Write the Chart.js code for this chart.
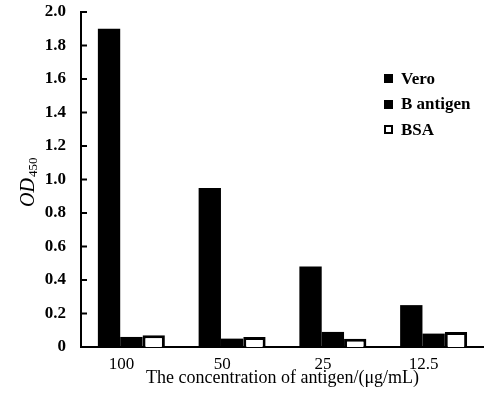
<!DOCTYPE html>
<html>
<head>
<meta charset="utf-8">
<script src="https://cdn.jsdelivr.net/npm/chart.js@4/dist/chart.umd.min.js"></script>
<style>
    html, body { margin: 0; padding: 0; background: #fff; }
    #wrap { position: relative; width: 484px; height: 396px; }
    #legend { position: absolute; left: 384px; top: 66px; font: bold 17px "Liberation Serif", serif; color: #000; }
    .item { height: 25.5px; display: flex; align-items: center; }
    .box { width: 9px; height: 9px; margin-right: 8px; box-sizing: border-box; }
</style>
</head>
<body>
<div id="wrap">
    <canvas id="chart" width="484" height="396"></canvas>
    <div id="legend"></div>
</div>
<script>
// concentration of antigen (µg/mL)
const categories = ['100', '50', '25', '12.5'];
const seriesNames = ['Vero', 'B antigen', 'BSA'];
const veroValues = [1.9, 0.95, 0.48, 0.25];
const bAntigenValues = [0.06, 0.05, 0.09, 0.08];
const bsaValues = [0.07, 0.06, 0.05, 0.09];
const yTicks = [0, 0.2, 0.4, 0.6, 0.8, 1.0, 1.2, 1.4, 1.6, 1.8, 2.0];

const serif = '"Liberation Serif", "Times New Roman", serif';

// inward tick marks on the y axis + the OD450 axis title
const axisExtras = {
    id: 'axisExtras',
    afterDraw(chart) {
        const ctx = chart.ctx;
        const y = chart.scales.y;
        const left = chart.chartArea.left;
        ctx.save();
        ctx.strokeStyle = '#000';
        ctx.lineWidth = 2;
        y.ticks.forEach(t => {
            const py = y.getPixelForValue(t.value);
            ctx.beginPath();
            ctx.moveTo(left, py);
            ctx.lineTo(left + 6, py);
            ctx.stroke();
        });

        // rotated y title: italic OD with subscript 450
        ctx.fillStyle = '#000';
        ctx.translate(34, 207);
        ctx.rotate(-Math.PI / 2);
        ctx.textBaseline = 'alphabetic';
        ctx.textAlign = 'left';
        ctx.font = 'italic 20px ' + serif;
        ctx.fillText('OD', 0, 0);
        const w = ctx.measureText('OD').width;
        ctx.font = '13px ' + serif;
        ctx.fillText('450', w + 1, 3);
        ctx.restore();
    }
};

const chart = new Chart(document.getElementById('chart'), {
    type: 'bar',
    data: {
        labels: categories,
        datasets: [
            { label: seriesNames[0], data: veroValues, backgroundColor: '#000', borderColor: '#000', borderWidth: 0 },
            { label: seriesNames[1], data: bAntigenValues, backgroundColor: '#000', borderColor: '#000', borderWidth: 0 },
            { label: seriesNames[2], data: bsaValues, backgroundColor: '#fff', borderColor: '#000', borderWidth: 3, borderSkipped: 'bottom' }
        ]
    },
    options: {
        responsive: false,
        animation: false,
        datasets: { bar: { categoryPercentage: 0.665, barPercentage: 1.0 } },
        layout: { padding: { left: 0, right: 0, top: 12, bottom: 7 } },
        plugins: {
            legend: { display: false },
            tooltip: { enabled: false }
        },
        scales: {
            x: {
                grid: { display: false, drawTicks: false },
                border: { color: '#000', width: 2 },
                ticks: { color: '#000', font: { family: serif, size: 17 }, padding: 7, labelOffset: -10, maxRotation: 0 },
                title: {
                    display: true,
                    text: 'The concentration of antigen/(μg/mL)',
                    color: '#000',
                    font: { family: serif, size: 18 },
                    padding: { top: -14, bottom: 0 }
                }
            },
            y: {
                min: 0,
                max: 2.0,
                afterBuildTicks: scale => { scale.ticks = yTicks.map(v => ({ value: v })); },
                afterFit: scale => {
                    scale.width = 81;
                    scale.paddingTop = 0;
                    scale.paddingBottom = 0;
                },
                grid: { display: false, drawTicks: false },
                border: { color: '#000', width: 2 },
                ticks: {
                    color: '#000',
                    font: { family: serif, size: 17, weight: 'bold' },
                    padding: 15,
                    callback: v => v === 0 ? '0' : v.toFixed(1)
                }
            }
        }
    },
    plugins: [axisExtras]
});

// legend built from the datasets
const legendEl = document.getElementById('legend');
chart.data.datasets.forEach(ds => {
    const item = document.createElement('div');
    item.className = 'item';
    const box = document.createElement('span');
    box.className = 'box';
    box.style.background = ds.backgroundColor;
    box.style.border = (ds.borderWidth ? 2 : 0) + 'px solid ' + ds.borderColor;
    item.appendChild(box);
    item.appendChild(document.createTextNode(ds.label));
    legendEl.appendChild(item);
});
</script>
</body>
</html>
